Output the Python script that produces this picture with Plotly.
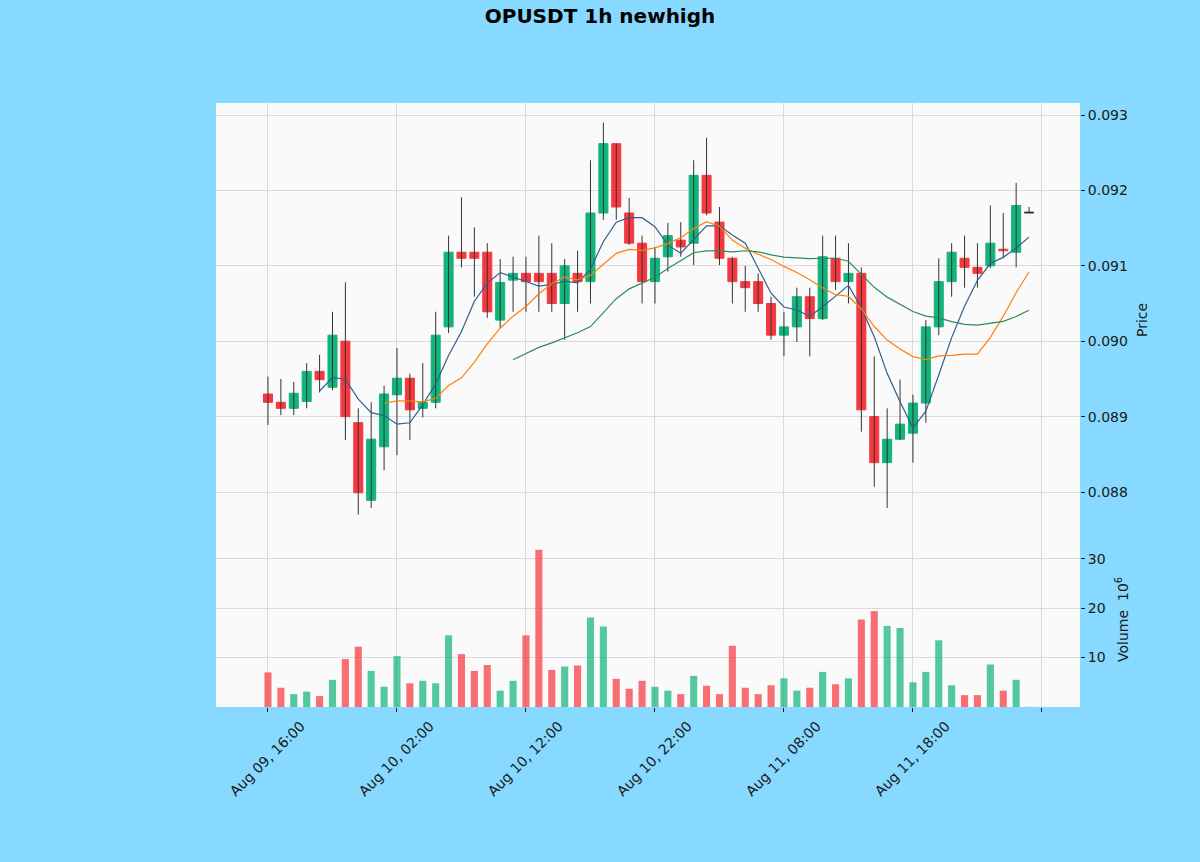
import pandas as pd
import plotly.graph_objects as go

# --- OHLC data (1h candles, Aug 09 16:00 -> Aug 12 03:00) ---
opens = [0.08930, 0.08919, 0.08911, 0.08920, 0.08960, 0.08939, 0.09000, 0.08892, 0.08789, 0.08860,
         0.08929, 0.08951, 0.08911, 0.08919, 0.09019, 0.09118, 0.09118, 0.09118, 0.09028, 0.09081,
         0.09090, 0.09090, 0.09090, 0.09050, 0.09090, 0.09079, 0.09170, 0.09262, 0.09170, 0.09130,
         0.09079, 0.09112, 0.09134, 0.09130, 0.09220, 0.09158, 0.09110, 0.09079, 0.09079, 0.09050,
         0.09008, 0.09019, 0.09059, 0.09030, 0.09110, 0.09079, 0.09090, 0.08900, 0.08839, 0.08870,
         0.08878, 0.08918, 0.09019, 0.09079, 0.09110, 0.09098, 0.09100, 0.09122, 0.09118, 0.09170]
highs = [0.08953, 0.08950, 0.08946, 0.08971, 0.08982, 0.09039, 0.09078, 0.08911, 0.08919, 0.08941,
         0.08991, 0.08957, 0.08971, 0.09039, 0.09140, 0.09191, 0.09151, 0.09130, 0.09109, 0.09112,
         0.09112, 0.09140, 0.09130, 0.09109, 0.09120, 0.09240, 0.09290, 0.09262, 0.09190, 0.09140,
         0.09125, 0.09157, 0.09158, 0.09240, 0.09270, 0.09178, 0.09112, 0.09100, 0.09090, 0.09059,
         0.09039, 0.09071, 0.09071, 0.09140, 0.09140, 0.09130, 0.09098, 0.08980, 0.08911, 0.08949,
         0.08929, 0.09028, 0.09110, 0.09130, 0.09140, 0.09130, 0.09180, 0.09170, 0.09210, 0.09178]
lows = [0.08889, 0.08902, 0.08902, 0.08911, 0.08932, 0.08935, 0.08869, 0.08770, 0.08779, 0.08829,
        0.08849, 0.08869, 0.08899, 0.08911, 0.09011, 0.09098, 0.09059, 0.09031, 0.09018, 0.09039,
        0.09039, 0.09039, 0.09039, 0.09002, 0.09039, 0.09050, 0.09161, 0.09161, 0.09128, 0.09050,
        0.09050, 0.09092, 0.09112, 0.09101, 0.09167, 0.09101, 0.09050, 0.09039, 0.09039, 0.09002,
        0.08980, 0.08999, 0.08980, 0.09028, 0.09068, 0.09050, 0.08880, 0.08807, 0.08779, 0.08869,
        0.08839, 0.08892, 0.09008, 0.09059, 0.09071, 0.09071, 0.09097, 0.09110, 0.09098, 0.09170]
closes = [0.08919, 0.08911, 0.08931, 0.08960, 0.08949, 0.09008, 0.08900, 0.08799, 0.08870, 0.08930,
          0.08951, 0.08909, 0.08919, 0.09008, 0.09118, 0.09110, 0.09110, 0.09039, 0.09078, 0.09090,
          0.09079, 0.09079, 0.09050, 0.09100, 0.09079, 0.09170, 0.09262, 0.09178, 0.09130, 0.09079,
          0.09110, 0.09140, 0.09125, 0.09220, 0.09170, 0.09110, 0.09079, 0.09071, 0.09050, 0.09008,
          0.09019, 0.09059, 0.09030, 0.09112, 0.09079, 0.09090, 0.08909, 0.08839, 0.08870, 0.08890,
          0.08918, 0.09019, 0.09079, 0.09118, 0.09098, 0.09090, 0.09130, 0.09120, 0.09180, 0.09170]
# volume in millions
volumes = [7.0, 3.9, 2.6, 3.1, 2.2, 5.5, 9.7, 12.2, 7.3, 4.1,
           10.3, 4.8, 5.3, 4.8, 14.5, 10.7, 7.3, 8.5, 3.3, 5.3,
           14.5, 31.8, 7.5, 8.2, 8.4, 18.1, 16.3, 5.7, 3.7, 5.3,
           4.1, 3.3, 2.6, 6.3, 4.3, 2.6, 12.4, 3.9, 2.6, 4.4,
           5.8, 3.3, 3.9, 7.1, 4.6, 5.8, 17.7, 19.4, 16.4, 16.0,
           5.0, 7.1, 13.5, 4.4, 2.4, 2.4, 8.6, 3.3, 5.5, 0.05]

tick_pos = [0, 10, 20, 30, 40, 50, 60]
tick_labels = ["Aug 09, 16:00", "Aug 10, 02:00", "Aug 10, 12:00", "Aug 10, 22:00",
               "Aug 11, 08:00", "Aug 11, 18:00", ""]
price_ticks = [0.088, 0.089, 0.090, 0.091, 0.092, 0.093]
vol_ticks = [10, 20, 30]
mav_periods = [5, 10, 20]
mav_colors = ['#2f5f8f', '#ff7f0e', '#2e8b57']

# --- styling ---
UP = '#12b47a'
DOWN = '#f5383f'
UP_VOL = 'rgba(18,180,122,0.72)'
DOWN_VOL = 'rgba(245,56,63,0.72)'
WICK = '#333333'
BG_OUT = '#88d9ff'
BG_PLOT = '#fafafa'
GRID = '#dadada'
FONT = 'DejaVu Sans'
TXT = '#1a1a1a'

idx = list(range(len(closes)))
df = pd.DataFrame({'o': opens, 'h': highs, 'l': lows, 'c': closes, 'v': volumes}, index=idx)

colors = []
for o, c in zip(df.o, df.c):
    if c > o:
        colors.append(UP)
    elif c < o:
        colors.append(DOWN)
    else:
        colors.append(WICK)
vol_colors = [UP_VOL if c >= o else DOWN_VOL for o, c in zip(df.o, df.c)]

min_body = 0.000012
body_base = [min(o, c) for o, c in zip(df.o, df.c)]
body_h = [max(abs(c - o), min_body) for o, c in zip(df.o, df.c)]

# wicks as one broken line
wx, wy = [], []
for i in idx:
    wx += [i, i, None]
    wy += [df.l[i], df.h[i], None]

fig = go.Figure()

fig.add_trace(go.Scatter(x=wx, y=wy, mode='lines', line=dict(color=WICK, width=1),
                         hoverinfo='skip', showlegend=False, xaxis='x', yaxis='y'))
fig.add_trace(go.Bar(x=idx, y=body_h, base=body_base, width=0.7,
                     marker=dict(color=colors, line=dict(color=colors, width=1)),
                     showlegend=False, xaxis='x', yaxis='y'))

# moving averages
for p, col in zip(mav_periods, mav_colors):
    ma = df.c.rolling(p).mean()
    fig.add_trace(go.Scatter(x=idx, y=ma, mode='lines', line=dict(color=col, width=1.2),
                             showlegend=False, xaxis='x', yaxis='y'))

# volume
fig.add_trace(go.Bar(x=idx, y=df.v, width=0.55, marker=dict(color=vol_colors, line=dict(width=0)),
                     showlegend=False, xaxis='x2', yaxis='y2'))

x_range = [-4.03, 62.95]
split = 0.2864

fig.update_layout(
    width=1200, height=862,
    margin=dict(l=216, r=120, t=103, b=155),
    paper_bgcolor=BG_OUT,
    plot_bgcolor=BG_PLOT,
    font=dict(family=FONT, size=14, color=TXT),
    title=dict(text='<b>OPUSDT 1h newhigh</b>', x=0.5, xref='container', xanchor='center',
               y=1 - 16 / 862, yref='container', yanchor='middle',
               font=dict(family=FONT, size=20, color='#000000')),
    showlegend=False,
    barmode='overlay',
    xaxis=dict(domain=[0, 1], anchor='y', range=x_range, tickvals=tick_pos,
               showticklabels=False, showgrid=True, gridcolor=GRID, gridwidth=1,
               zeroline=False, showline=False, matches='x2'),
    xaxis2=dict(domain=[0, 1], anchor='y2', range=x_range, tickvals=tick_pos,
                showticklabels=False, ticks='outside', ticklen=4, tickcolor=TXT,
                showgrid=True, gridcolor=GRID, gridwidth=1, zeroline=False, showline=False),
    yaxis=dict(domain=[split, 1], anchor='x', side='right', range=[0.087443, 0.0931592],
               tickvals=price_ticks, tickformat='.3f', ticks='outside', ticklen=4,
               tickcolor=TXT, showgrid=True, gridcolor=GRID, gridwidth=1,
               zeroline=False, showline=False),
    yaxis2=dict(domain=[0, split], anchor='x2', side='right', range=[0, 35],
                tickvals=vol_ticks, ticks='outside', ticklen=4, tickcolor=TXT,
                showgrid=True, gridcolor=GRID, gridwidth=1, zeroline=False, showline=False),
)

# rotated date labels, centred under their ticks
for pos, lab in zip(tick_pos, tick_labels):
    if not lab:
        continue
    fig.add_annotation(x=pos, y=0, xref='x2', yref='paper', text=lab, textangle=-45,
                       showarrow=False, xanchor='center', yanchor='top', yshift=-8,
                       font=dict(family=FONT, size=14, color=TXT))

# axis titles
fig.add_annotation(x=(1142 - 216) / 864, y=1 - (320 - 103) / 604, xref='paper', yref='paper',
                   text='Price', textangle=-90, showarrow=False, xanchor='center',
                   yanchor='middle', font=dict(family=FONT, size=14, color=TXT))
fig.add_annotation(x=(1122 - 216) / 864, y=(707 - 620) / 604, xref='paper', yref='paper',
                   text='Volume  10<sup>6</sup>', textangle=-90, showarrow=False,
                   xanchor='center', yanchor='middle',
                   font=dict(family=FONT, size=14, color=TXT))

# drop the page margin so the figure sits at the window's corner
fig.write_html("out.html", config={'displayModeBar': False},
               post_script="document.body.style.margin='0';")
